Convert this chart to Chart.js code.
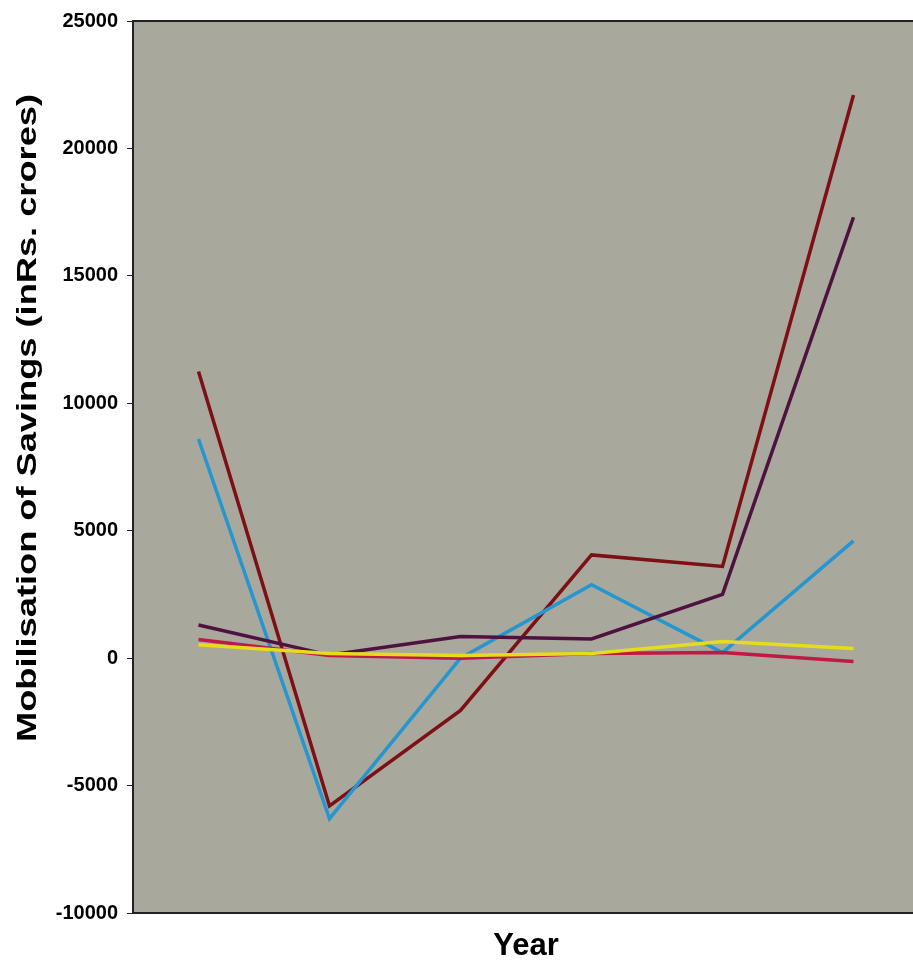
<!DOCTYPE html>
<html>
<head>
<meta charset="utf-8">
<script src="https://cdn.jsdelivr.net/npm/chart.js@4"></script>
<style>
  html, body { margin: 0; padding: 0; background: #fff; overflow: hidden; }
  canvas { display: block; }
</style>
</head>
<body>
<canvas id="savingsChart"></canvas>
<script>
const years = ['1', '2', '3', '4', '5', '6'];
const seriesA = [11250, -5800, -2050, 4050, 3600, 22100];   // dark red
const seriesB = [1300, 120, 850, 750, 2500, 17300];         // purple
const seriesC = [8600, -6300, 0, 2880, 220, 4600];          // blue
const seriesD = [530, 180, 100, 180, 650, 380];             // yellow
const seriesE = [730, 100, 0, 180, 220, -130];              // crimson
const yTicks = [-10000, -5000, 0, 5000, 10000, 15000, 20000, 25000];
const yTitle = 'Mobilisation of Savings (inRs. crores)';

const canvas = document.getElementById('savingsChart');
canvas.width = 920;
canvas.height = 965;
canvas.style.width = '920px';
canvas.style.height = '965px';

const FONT = 'Liberation Sans, Arial, sans-serif';

// grey plot panel + top frame line
const plotBg = {
    id: 'plotBg',
    beforeDraw(chart) {
        const a = chart.chartArea;
        const ctx = chart.ctx;
        ctx.save();
        ctx.fillStyle = '#a9a89c';
        ctx.fillRect(a.left, a.top, a.right - a.left, a.bottom - a.top);
        ctx.strokeStyle = '#222';
        ctx.lineWidth = 2;
        ctx.beginPath();
        ctx.moveTo(a.left, a.top);
        ctx.lineTo(a.right, a.top);
        ctx.stroke();
        ctx.restore();
    }
};

// y title in the scanned original is stretched along its length
const yTitlePlugin = {
    id: 'yTitle',
    afterDraw(chart) {
        const ctx = chart.ctx;
        ctx.save();
        ctx.font = 'bold 28px ' + FONT;
        ctx.fillStyle = '#000';
        ctx.textAlign = 'center';
        ctx.textBaseline = 'middle';
        ctx.translate(28, 418);
        ctx.rotate(-Math.PI / 2);
        const w = ctx.measureText(yTitle).width;
        ctx.scale(648 / w, 1);
        ctx.fillText(yTitle, 0, 0);
        ctx.restore();
    }
};

function line(data, color) {
    return {
        data: data,
        borderColor: color,
        borderWidth: 3.5,
        pointRadius: 0,
        tension: 0,
        fill: false
    };
}

new Chart(canvas.getContext('2d'), {
    type: 'line',
    data: {
        labels: years,
        datasets: [
            line(seriesD, '#e6dc1e'),
            line(seriesE, '#c01848'),
            line(seriesB, '#4e1240'),
            line(seriesC, '#2596d0'),
            line(seriesA, '#7c1014')
        ]
    },
    options: {
        responsive: false,
        animation: false,
        layout: { padding: { top: 16, right: 1, left: 0, bottom: 0 } },
        plugins: {
            legend: { display: false },
            tooltip: { enabled: false }
        },
        scales: {
            x: {
                offset: true,
                grid: { display: false, drawTicks: false },
                border: { display: true, color: '#222', width: 2 },
                ticks: { display: false },
                title: {
                    display: true,
                    text: 'Year',
                    color: '#000',
                    font: { family: FONT, size: 31, weight: 'bold' },
                    padding: { top: 14, bottom: 0 }
                },
                afterFit(scale) { scale.height = 52; }
            },
            y: {
                min: -10000,
                max: 25000,
                afterBuildTicks(scale) { scale.ticks = yTicks.map(v => ({ value: v })); },
                grid: { drawOnChartArea: false, drawTicks: true, tickLength: 6, color: '#222' },
                border: { display: true, color: '#222', width: 2 },
                ticks: {
                    color: '#000',
                    padding: 9,
                    font: { family: FONT, size: 20, weight: 'bold' },
                    callback: v => String(v)
                },
                title: { display: false },
                afterFit(scale) { scale.width = 133; }
            }
        }
    },
    plugins: [plotBg, yTitlePlugin]
});
</script>
</body>
</html>
